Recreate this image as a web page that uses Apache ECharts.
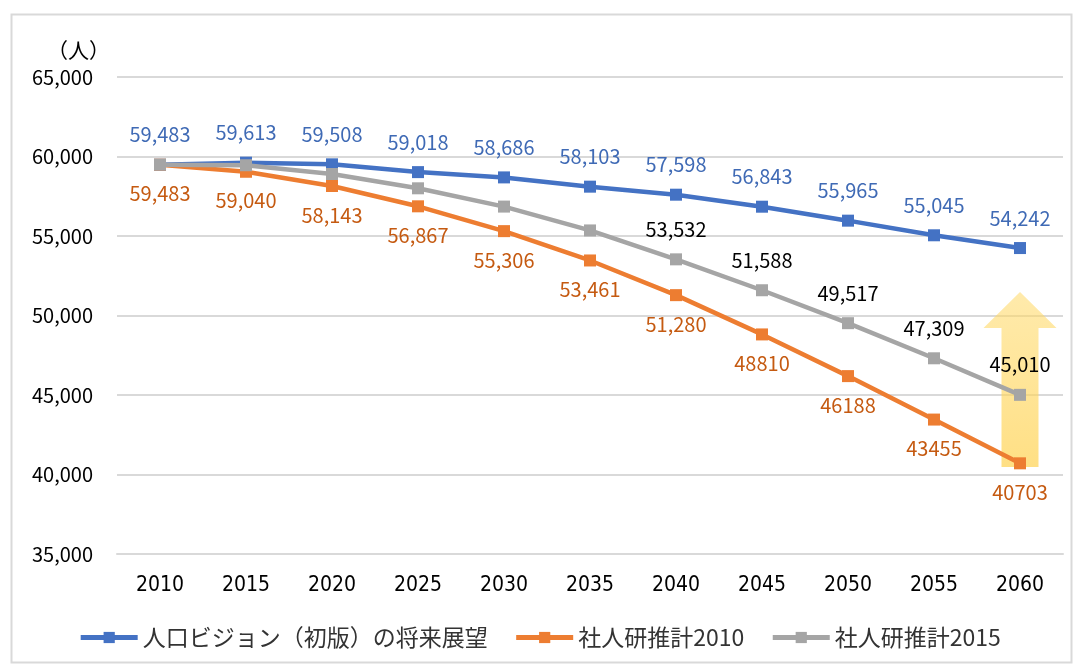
<!DOCTYPE html>
<html>
<head>
<meta charset="utf-8">
<title>人口の将来展望</title>
<script src="https://cdn.jsdelivr.net/npm/echarts@6/dist/echarts.min.js"></script>
<style>
html,body{margin:0;padding:0;background:#fff;}
#chart{width:1079px;height:668px;}
</style>
</head>
<body>
<div id="chart"></div>
<script>
//年次
var years = ['2010','2015','2020','2025','2030','2035','2040','2045','2050','2055','2060'];
//人口ビジョン（初版）の将来展望
var vision = [59483,59613,59508,59018,58686,58103,57598,56843,55965,55045,54242];
//社人研推計2010
var ipss2010 = [59483,59040,58143,56867,55306,53461,51280,48810,46188,43455,40703];
//社人研推計2015
var ipss2015 = [59483,59450,58900,58000,56850,55350,53532,51588,49517,47309,45010];
var seriesNames = ['人口ビジョン（初版）の将来展望','社人研推計2010','社人研推計2015'];
//矢印（2060年）
var arrowFrom = 40470, arrowHeadBase = 49210, arrowTo = 51480;

var cjk = '"Noto Sans CJK JP", "Noto Sans", sans-serif';

function comma(v){
    return String(v).replace(/\B(?=(\d{3})+(?!\d))/g, ',');
}

var frameGraphics = [
    {type:'rect',left:9,top:12,shape:{width:1060,height:648},
     style:{fill:null,stroke:'#D9D9D9',lineWidth:2},silent:true},
    {type:'text',left:47,top:40,
     style:{text:'（人）',fontFamily:cjk,fontSize:21,fill:'#000'}}
];

var myChart = echarts.init(document.getElementById('chart'));
var option = {
    backgroundColor:'#fff',
    animation:false,
    color:['#4472C4','#ED7D31','#A5A5A5'],
    grid:{left:117,right:16,top:77,bottom:114},
    legend:{
        bottom:14,
        left:'center',
        itemWidth:57,
        itemHeight:14,
        itemGap:26,
        lineStyle:{width:5},
        textStyle:{fontFamily:cjk,fontSize:23,color:'#333'},
        data:seriesNames
    },
    xAxis:{
        type:'category',
        data:years,
        boundaryGap:true,
        axisLine:{lineStyle:{color:'#D9D9D9',width:2}},
        axisTick:{show:false},
        axisLabel:{
            margin:21,
            color:'#000',
            fontSize:21,
            fontFamily:'"Liberation Sans Narrow", "DejaVu Sans Condensed", sans-serif'
        }
    },
    yAxis:{
        type:'value',
        min:35000,
        max:65000,
        interval:5000,
        axisLine:{show:false},
        axisTick:{show:false},
        splitLine:{lineStyle:{color:'#D9D9D9',width:2}},
        axisLabel:{
            margin:24,
            color:'#000',
            fontSize:20,
            fontFamily:cjk,
            formatter:function(v){return comma(v);}
        }
    },
    graphic:frameGraphics,
    series:[
        {
            name:seriesNames[0],
            type:'line',
            data:vision,
            symbol:'rect',
            symbolSize:12,
            lineStyle:{width:4.5},
            label:{
                show:true,position:'top',distance:14,
                color:'#3F6AB5',fontSize:20,fontFamily:cjk,
                formatter:function(p){return comma(p.value);}
            }
        },
        {
            name:seriesNames[1],
            type:'line',
            data:ipss2010,
            symbol:'rect',
            symbolSize:12,
            lineStyle:{width:4.5},
            label:{
                show:true,position:'bottom',distance:13,
                color:'#C55A11',fontSize:20,fontFamily:cjk,
                //2045年以降はカンマなし
                formatter:function(p){return p.dataIndex < 7 ? comma(p.value) : String(p.value);}
            }
        },
        {
            name:seriesNames[2],
            type:'line',
            data:ipss2015,
            symbol:'rect',
            symbolSize:12,
            lineStyle:{width:4.5},
            label:{
                show:true,position:'top',distance:14,
                color:'#000',fontSize:20,fontFamily:cjk,
                //2040〜2055年のみ表示（2060年は矢印の上に別途）
                formatter:function(p){return (p.dataIndex >= 6 && p.dataIndex < 10) ? comma(p.value) : '';}
            }
        },
        {
            //2060年のラベルだけ矢印より前面に出す
            name:'label2060',
            type:'line',
            data:ipss2015,
            z:4,
            silent:true,
            symbol:'rect',
            symbolSize:12,
            itemStyle:{color:'rgba(0,0,0,0)'},
            lineStyle:{opacity:0},
            label:{
                show:true,position:'top',distance:14,
                color:'#000',fontSize:20,fontFamily:cjk,
                formatter:function(p){return p.dataIndex == 10 ? comma(p.value) : '';}
            }
        }
    ]
};
myChart.setOption(option);

// 2060年の矢印
function drawArrow(){
    var last = years[years.length-1];
    var bottom = myChart.convertToPixel({gridIndex:0}, [last, arrowFrom]);
    var head = myChart.convertToPixel({gridIndex:0}, [last, arrowHeadBase]);
    var top = myChart.convertToPixel({gridIndex:0}, [last, arrowTo]);
    var cx = bottom[0], sw = 18.5, hw = 36.5;
    myChart.setOption({
        graphic:frameGraphics.concat([
            {
                type:'polygon',
                z:3,
                silent:true,
                shape:{points:[
                    [cx-sw,bottom[1]],[cx+sw,bottom[1]],[cx+sw,head[1]],[cx+hw,head[1]],
                    [cx,top[1]],[cx-hw,head[1]],[cx-sw,head[1]]
                ]},
                style:{
                    fill:new echarts.graphic.LinearGradient(0,0,0,1,[
                        {offset:0,color:'rgba(255,217,102,0.55)'},
                        {offset:1,color:'rgba(255,210,80,0.7)'}
                    ])
                }
            }
        ])
    });
}
drawArrow();
</script>
</body>
</html>
